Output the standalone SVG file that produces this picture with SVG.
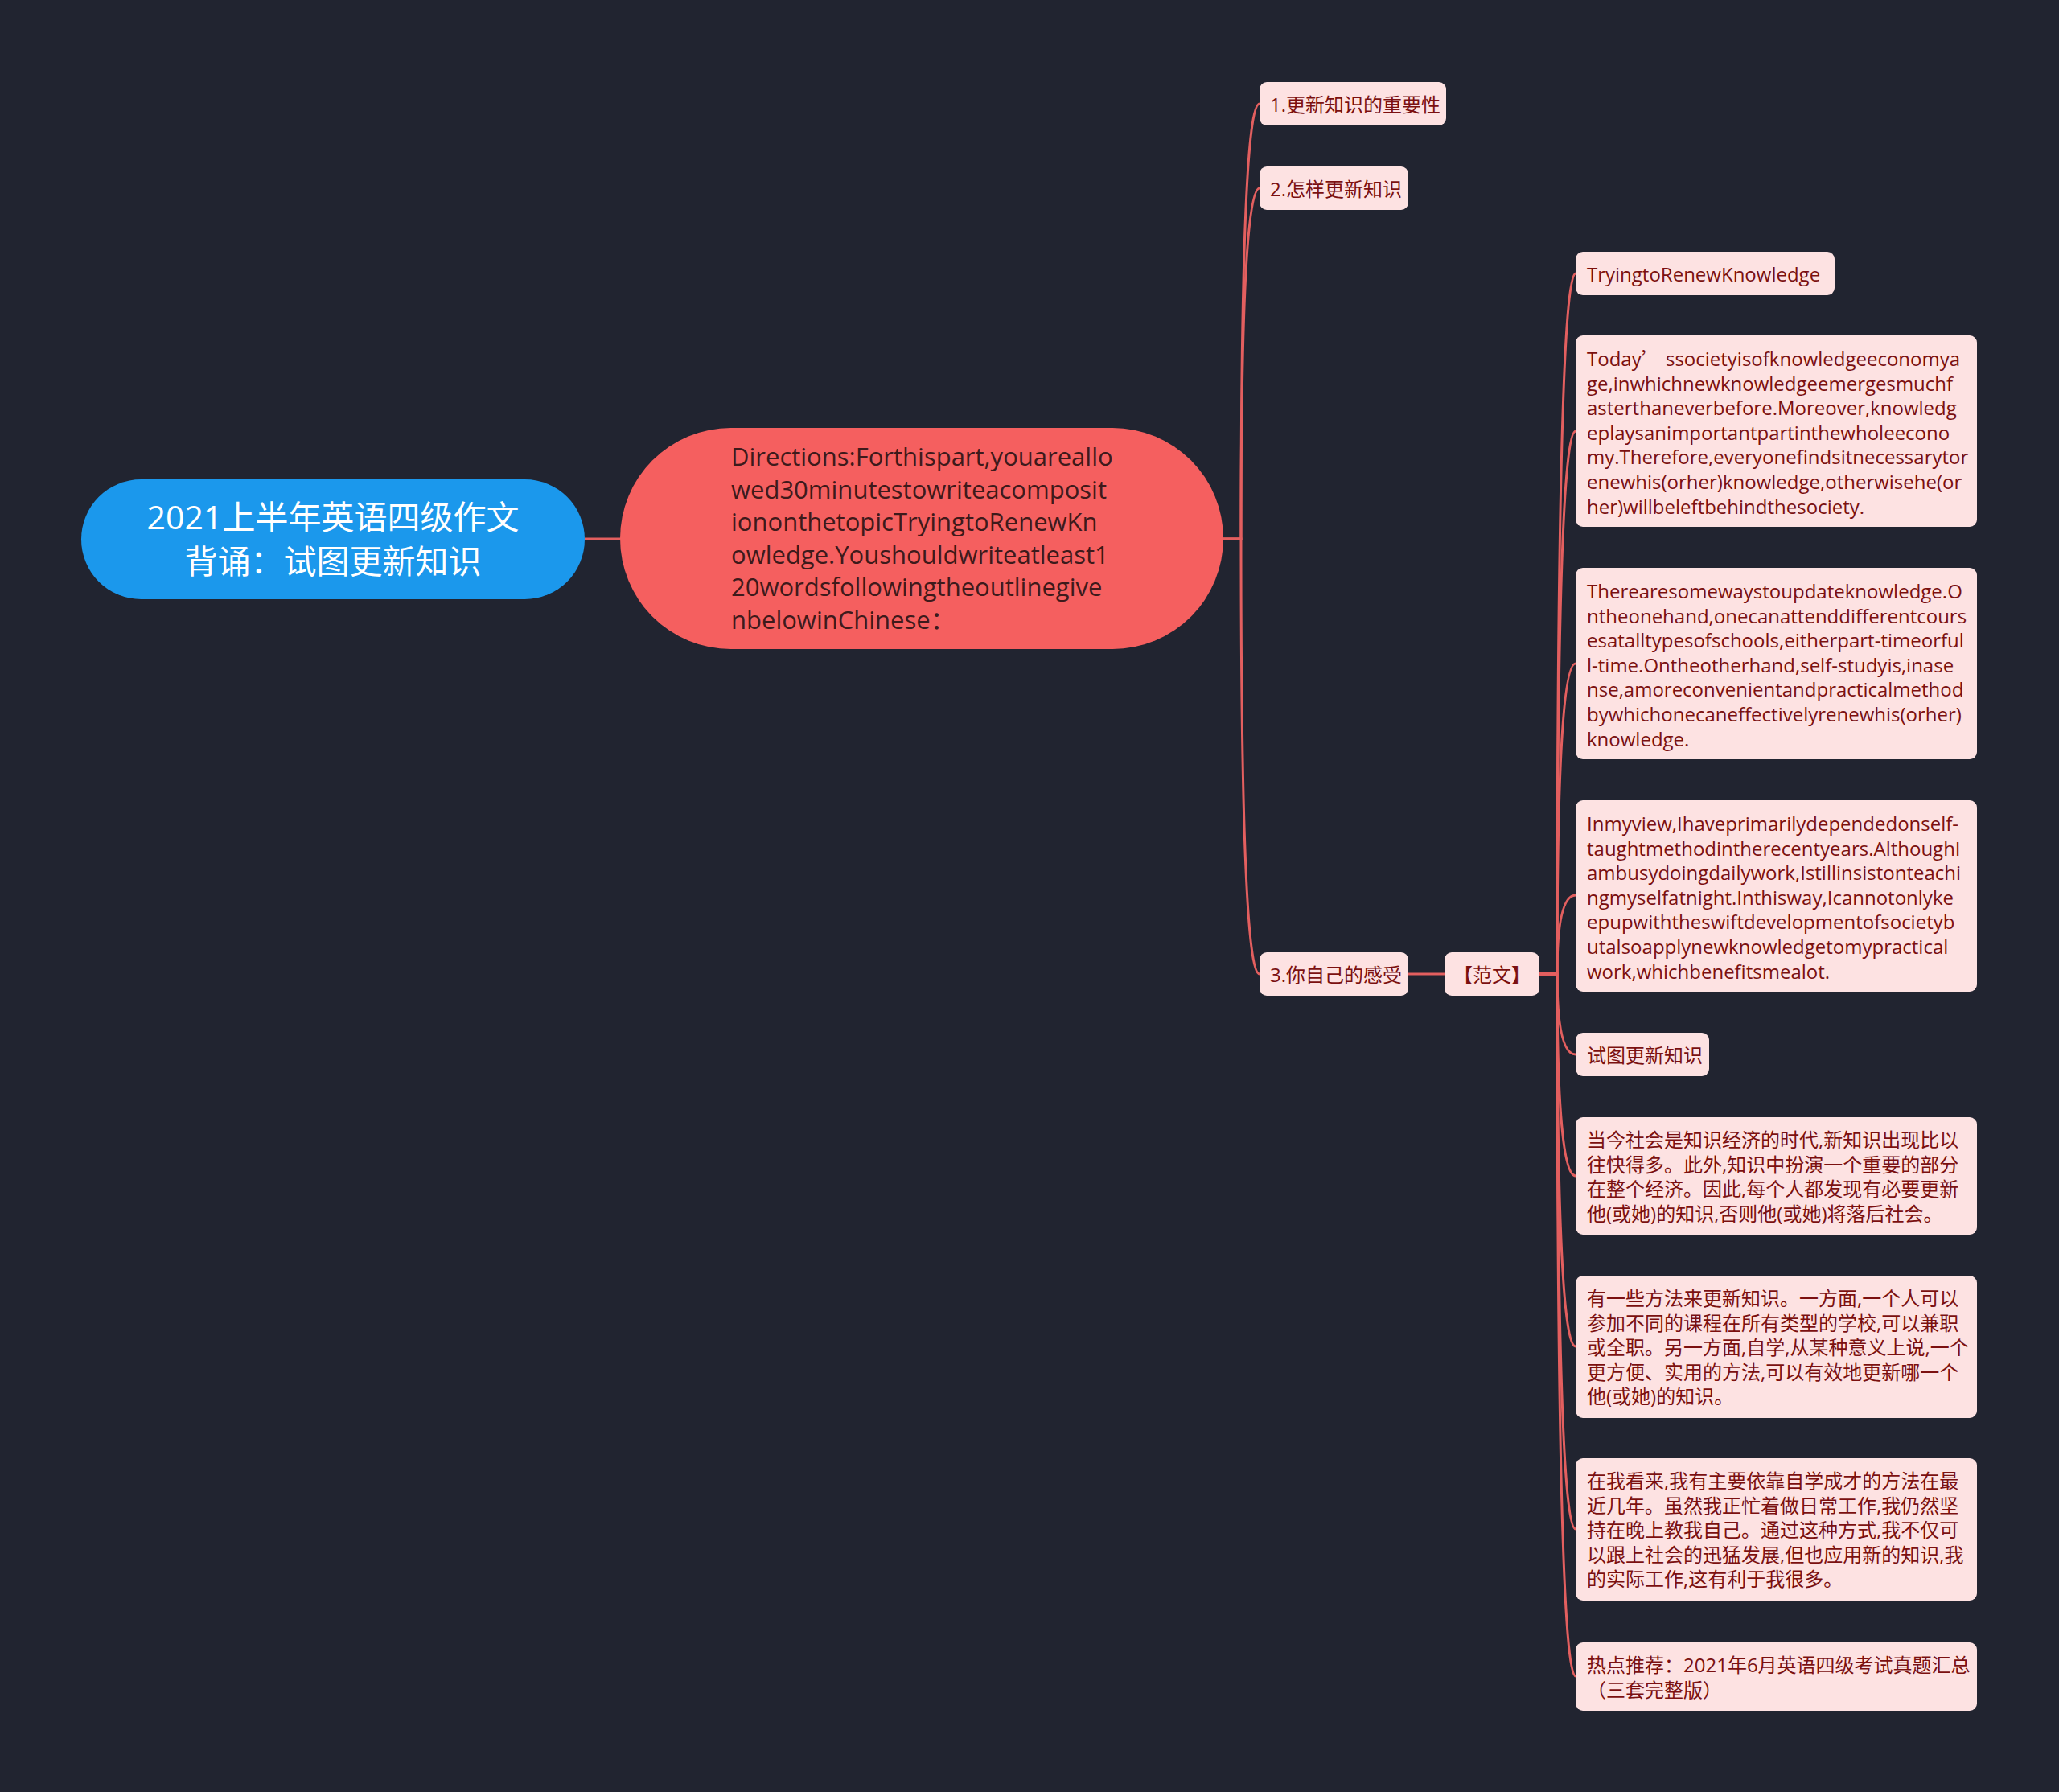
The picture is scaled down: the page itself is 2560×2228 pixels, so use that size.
<svg xmlns="http://www.w3.org/2000/svg" width="2560" height="2228" viewBox="0 0 2560 2228">
<style>
.bg{fill:#212430}
.conn{fill:none;stroke:#e35f5f;stroke-width:3}
.root{fill:#1b98ec}
.rootT{font-family:"Open Sans","Noto Sans CJK SC",sans-serif;font-size:41px;fill:#ffffff;text-anchor:middle}
.main{fill:#f55f5f}
.mainT{font-family:"Open Sans","Noto Sans CJK SC",sans-serif;font-size:31px;fill:#3e1a1b}
.box{fill:#fde2e2}
.t{font-family:"Open Sans","Noto Sans CJK SC",sans-serif;font-size:24px;fill:#7b1010}
.cjk{font-family:"Noto Sans CJK SC",sans-serif}
</style>
<rect class="bg" x="0" y="0" width="2560" height="2228"/>
<g id="connectors">
<path class="conn" d="M 727 670 H 771"/>
<path class="conn" d="M 1521 670 H 1543 Q 1543 129 1566 129"/>
<path class="conn" d="M 1521 670 H 1543 Q 1543 234 1566 234"/>
<path class="conn" d="M 1521 670 H 1543 Q 1543 1211 1566 1211"/>
<path class="conn" d="M 1751 1211 H 1796"/>
<path class="conn" d="M 1914 1211 H 1936 Q 1936 340 1959 340"/>
<path class="conn" d="M 1914 1211 H 1936 Q 1936 536 1959 536"/>
<path class="conn" d="M 1914 1211 H 1936 Q 1936 825 1959 825"/>
<path class="conn" d="M 1914 1211 H 1936 Q 1936 1113 1959 1113"/>
<path class="conn" d="M 1914 1211 H 1936 Q 1936 1311 1959 1311"/>
<path class="conn" d="M 1914 1211 H 1936 Q 1936 1462 1959 1462"/>
<path class="conn" d="M 1914 1211 H 1936 Q 1936 1674 1959 1674"/>
<path class="conn" d="M 1914 1211 H 1936 Q 1936 1901 1959 1901"/>
<path class="conn" d="M 1914 1211 H 1936 Q 1936 2084 1959 2084"/>
</g>
<g id="root">
<rect class="root" x="101" y="596" width="626" height="149" rx="74.5"/>
<text class="rootT" x="414" y="658">2021上半年英语四级作文</text>
<text class="rootT" x="414" y="713">背诵：试图更新知识</text>
</g>
<g id="directions">
<rect class="main" x="771" y="532" width="750" height="275" rx="137.5"/>
<text class="mainT" x="909" y="579">Directions:Forthispart,youareallo</text>
<text class="mainT" x="909" y="619.5">wed30minutestowriteacomposit</text>
<text class="mainT" x="909" y="660">iononthetopicTryingtoRenewKn</text>
<text class="mainT" x="909" y="700.5">owledge.Youshouldwriteatleast1</text>
<text class="mainT" x="909" y="741">20wordsfollowingtheoutlinegive</text>
<text class="mainT" x="909" y="781.5">nbelowinChinese：</text>
</g>
<g id="n1">
<rect class="box" x="1566" y="102" width="232" height="54" rx="9"/>
<text class="t" x="1579" y="139">1.更新知识的重要性</text>
</g>
<g id="n2">
<rect class="box" x="1566" y="207" width="185" height="54" rx="9"/>
<text class="t" x="1579" y="244">2.怎样更新知识</text>
</g>
<g id="n3">
<rect class="box" x="1566" y="1184" width="185" height="54" rx="9"/>
<text class="t" x="1579" y="1221">3.你自己的感受</text>
</g>
<g id="fanwen">
<rect class="box" x="1796" y="1184" width="118" height="54" rx="9"/>
<text class="t" x="1855" y="1221" text-anchor="middle">【范文】</text>
</g>
<g id="c1">
<rect class="box" x="1959" y="313" width="322" height="54" rx="9"/>
<text class="t" x="1973" y="350">TryingtoRenewKnowledge</text>
</g>
<g id="c2">
<rect class="box" x="1959" y="417" width="499" height="238" rx="9"/>
<text class="t" x="1973" y="455">Today<tspan class="cjk">’</tspan> ssocietyisofknowledgeeconomya</text>
<text class="t" x="1973" y="485.6">ge,inwhichnewknowledgeemergesmuchf</text>
<text class="t" x="1973" y="516.2">asterthaneverbefore.Moreover,knowledg</text>
<text class="t" x="1973" y="546.8">eplaysanimportantpartinthewholeecono</text>
<text class="t" x="1973" y="577.4">my.Therefore,everyonefindsitnecessarytor</text>
<text class="t" x="1973" y="608">enewhis(orher)knowledge,otherwisehe(or</text>
<text class="t" x="1973" y="638.6">her)willbeleftbehindthesociety.</text>
</g>
<g id="c3">
<rect class="box" x="1959" y="706" width="499" height="238" rx="9"/>
<text class="t" x="1973" y="744">Therearesomewaystoupdateknowledge.O</text>
<text class="t" x="1973" y="774.6">ntheonehand,onecanattenddifferentcours</text>
<text class="t" x="1973" y="805.2">esatalltypesofschools,eitherpart-timeorful</text>
<text class="t" x="1973" y="835.8">l-time.Ontheotherhand,self-studyis,inase</text>
<text class="t" x="1973" y="866.4">nse,amoreconvenientandpracticalmethod</text>
<text class="t" x="1973" y="897">bywhichonecaneffectivelyrenewhis(orher)</text>
<text class="t" x="1973" y="927.6">knowledge.</text>
</g>
<g id="c4">
<rect class="box" x="1959" y="995" width="499" height="238" rx="9"/>
<text class="t" x="1973" y="1033">Inmyview,Ihaveprimarilydependedonself-</text>
<text class="t" x="1973" y="1063.6">taughtmethodintherecentyears.AlthoughI</text>
<text class="t" x="1973" y="1094.2">ambusydoingdailywork,Istillinsistonteachi</text>
<text class="t" x="1973" y="1124.8">ngmyselfatnight.Inthisway,Icannotonlyke</text>
<text class="t" x="1973" y="1155.4">epupwiththeswiftdevelopmentofsocietyb</text>
<text class="t" x="1973" y="1186">utalsoapplynewknowledgetomypractical</text>
<text class="t" x="1973" y="1216.6">work,whichbenefitsmealot.</text>
</g>
<g id="c5">
<rect class="box" x="1959" y="1284" width="166" height="54" rx="9"/>
<text class="t" x="1973" y="1321">试图更新知识</text>
</g>
<g id="c6">
<rect class="box" x="1959" y="1389" width="499" height="146" rx="9"/>
<text class="t" x="1973" y="1426">当今社会是知识经济的时代,新知识出现比以</text>
<text class="t" x="1973" y="1456.6">往快得多。此外,知识中扮演一个重要的部分</text>
<text class="t" x="1973" y="1487.2">在整个经济。因此,每个人都发现有必要更新</text>
<text class="t" x="1973" y="1517.8">他(或她)的知识,否则他(或她)将落后社会。</text>
</g>
<g id="c7">
<rect class="box" x="1959" y="1586" width="499" height="177" rx="9"/>
<text class="t" x="1973" y="1623">有一些方法来更新知识。一方面,一个人可以</text>
<text class="t" x="1973" y="1653.6">参加不同的课程在所有类型的学校,可以兼职</text>
<text class="t" x="1973" y="1684.2">或全职。另一方面,自学,从某种意义上说,一个</text>
<text class="t" x="1973" y="1714.8">更方便、实用的方法,可以有效地更新哪一个</text>
<text class="t" x="1973" y="1745.4">他(或她)的知识。</text>
</g>
<g id="c8">
<rect class="box" x="1959" y="1813" width="499" height="177" rx="9"/>
<text class="t" x="1973" y="1850">在我看来,我有主要依靠自学成才的方法在最</text>
<text class="t" x="1973" y="1880.6">近几年。虽然我正忙着做日常工作,我仍然坚</text>
<text class="t" x="1973" y="1911.2">持在晚上教我自己。通过这种方式,我不仅可</text>
<text class="t" x="1973" y="1941.8">以跟上社会的迅猛发展,但也应用新的知识,我</text>
<text class="t" x="1973" y="1972.4">的实际工作,这有利于我很多。</text>
</g>
<g id="c9">
<rect class="box" x="1959" y="2042" width="499" height="85" rx="9"/>
<text class="t" x="1973" y="2079">热点推荐：2021年6月英语四级考试真题汇总</text>
<text class="t" x="1973" y="2109.6">（三套完整版）</text>
</g>
</svg>
